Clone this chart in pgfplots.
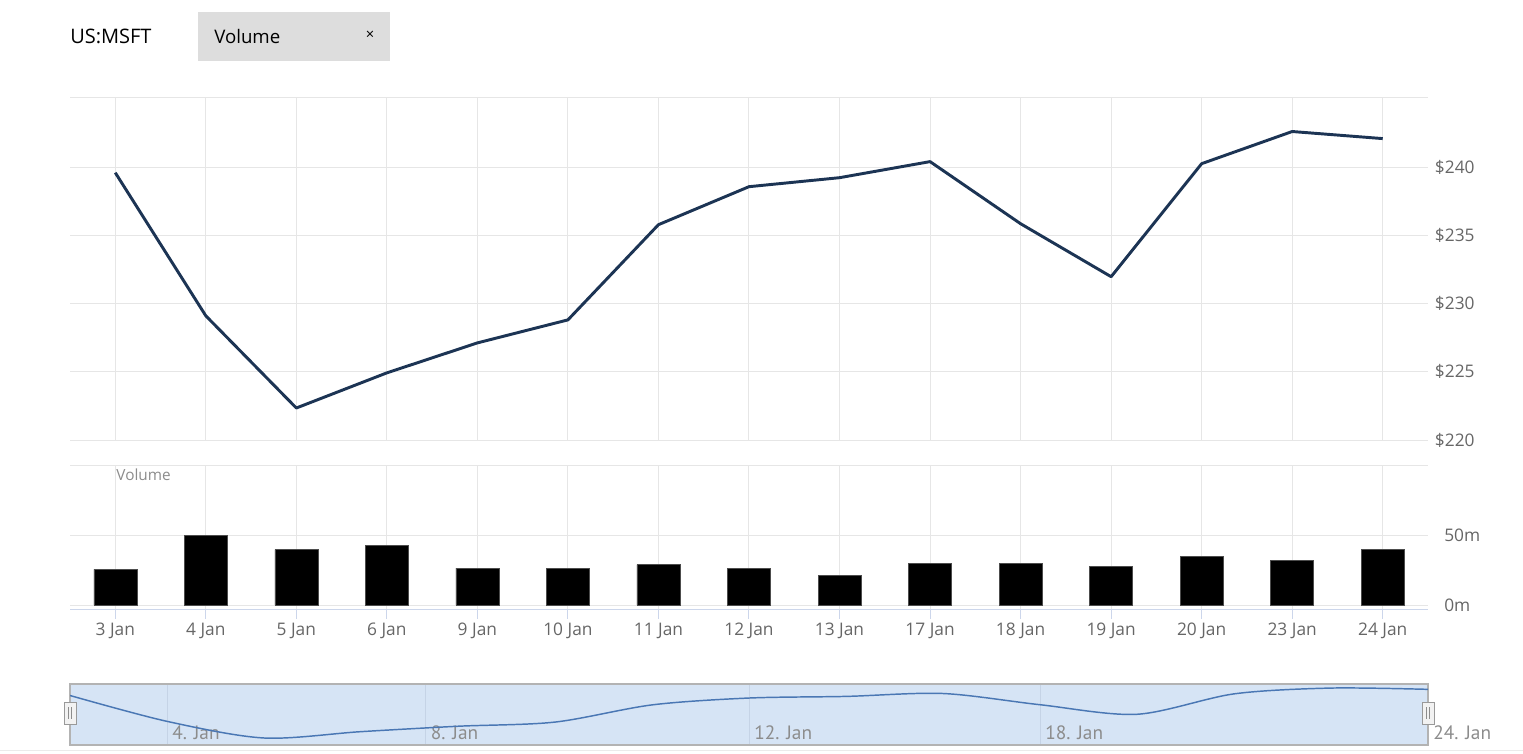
\documentclass[border=0pt]{standalone}
\usepackage{pgfplots}
\pgfplotsset{compat=1.18}
\usepackage{pgfplotstable}
\usepackage{fontspec}
\setmainfont{Open Sans}
\newfontfamily\navfont{PT Sans}

\definecolor{pricecol}{HTML}{1C3454}
\definecolor{gridcol}{HTML}{E6E6E6}
\definecolor{axiscol}{HTML}{CCD6EB}
\definecolor{labcol}{HTML}{666666}
\definecolor{navfill}{HTML}{D6E4F5}
\definecolor{navborder}{HTML}{B3B3B3}
\definecolor{navline}{HTML}{4A77B4}
\definecolor{navgrid}{HTML}{C5D3E6}
\definecolor{navlab}{HTML}{8C8C8C}
\definecolor{tabgray}{HTML}{DDDDDD}

% index, close price ($), volume (m)
\pgfplotstableread{
idx price vol
0  239.63 25.5
1  229.12 50.0
2  222.35 39.5
3  224.93 42.6
4  227.13 26.4
5  228.82 26.4
6  235.81 28.8
7  238.60 26.4
8  239.26 21.2
9  240.44 29.8
10 235.88 29.8
11 231.99 27.6
12 240.29 35.0
13 242.65 31.9
14 242.13 39.5
}\msft

\begin{document}
\begin{tikzpicture}[x=0.75pt,y=-0.75pt]
\useasboundingbox (0,0) rectangle (1523,753);

% header
\node[anchor=west, inner sep=0pt, font=\fontsize{15}{18}\selectfont] at (70,36) {US:MSFT};
\fill[tabgray] (198,12) rectangle (390,61);
\node[anchor=west, inner sep=0pt, font=\fontsize{14}{17}\selectfont] at (214,36) {Volume};
\node[inner sep=0pt, font=\fontsize{11}{13}\selectfont] at (370,35) {×};

% price panel
\begin{axis}[at={(52.5pt,-330pt)}, anchor=south west, scale only axis,
  width=1018.5pt, height=256.9pt,
  xmin=-0.5, xmax=14.5, ymin=220, ymax=245.15,
  axis x line*=bottom, axis y line*=right,
  axis line style={draw=none}, tick style={draw=none},
  xmajorgrids, ymajorgrids, major grid style={gridcol, line width=0.75pt},
  xtick={0,...,14}, xticklabels={},
  ytick={220,225,...,240}, yticklabels={\$220,\$225,\$230,\$235,\$240},
  yticklabel style={anchor=west, inner sep=0pt, xshift=5pt,
    font=\fontsize{13}{15}\selectfont, text=labcol},
  clip=false]
\draw[gridcol, line width=0.75pt] (rel axis cs:0,1) -- (rel axis cs:1,1);
\addplot[pricecol, line width=2.2pt, line join=round] table[x=idx, y=price]{\msft};
\end{axis}

% volume panel
\begin{axis}[at={(52.5pt,-456.98pt)}, anchor=south west, scale only axis,
  width=1018.5pt, height=108.2pt,
  xmin=-0.5, xmax=14.5, ymin=-3.07, ymax=100,
  axis x line*=bottom, axis y line*=right,
  x axis line style={axiscol, line width=0.75pt, -},
  y axis line style={draw=none},
  xmajorgrids, ymajorgrids, major grid style={gridcol, line width=0.75pt},
  xtick={0,...,14},
  xticklabels={3 Jan,4 Jan,5 Jan,6 Jan,9 Jan,10 Jan,11 Jan,12 Jan,13 Jan,17 Jan,18 Jan,19 Jan,20 Jan,23 Jan,24 Jan},
  xtick style={axiscol, line width=0.75pt}, tick align=outside, major tick length=7pt,
  ytick={0,50,100}, yticklabels={0m,50m,}, ytick style={draw=none},
  yticklabel style={anchor=west, inner sep=0pt, xshift=5pt,
    font=\fontsize{13}{15}\selectfont, text=labcol},
  xticklabel style={font=\fontsize{13}{15}\selectfont, text=labcol},
  ybar, bar width=32.25pt, clip=false]
\addplot[fill=black, draw=black!70] table[x=idx, y=vol]{\msft};
\node[anchor=west, inner sep=0pt, text=navlab, font=\fontsize{11.5}{13}\selectfont] at (rel axis cs:0.034,0.93) {Volume};
\end{axis}

% navigator
\begin{axis}[at={(52.5pt,-558.75pt)}, anchor=south west, scale only axis,
  width=1018.5pt, height=45.75pt,
  xmin=0, xmax=14, ymin=219.5, ymax=244.3,
  axis background/.style={fill=navfill},
  axis line style={navborder, line width=1pt},
  xtick={1,3.6667,7,10,14}, xticklabels={4. Jan,8. Jan,12. Jan,18. Jan,24. Jan},
  xmajorgrids, major grid style={navgrid, line width=0.75pt},
  ytick=\empty, tick style={draw=none},
  xticklabel style={anchor=south west, inner sep=0pt, xshift=3.75pt, yshift=3.5pt,
    font=\navfont\fontsize{14.5}{16}\selectfont, text=navlab}]
\addplot[navline, line width=1.1pt, smooth, tension=0.5] table[x=idx, y=price]{\msft};
\end{axis}

% navigator handles
\foreach \hx in {64,1422} {
  \draw[fill=white!95!black, draw=black!40, line width=0.75pt] (\hx,702) rectangle (\hx+12,724);
  \draw[black!45, line width=0.6pt] (\hx+4.5,707) -- (\hx+4.5,719) (\hx+7.5,707) -- (\hx+7.5,719);
}
\draw[black!8, line width=0.75pt] (0,750) -- (1523,750);
\end{tikzpicture}
\end{document}
